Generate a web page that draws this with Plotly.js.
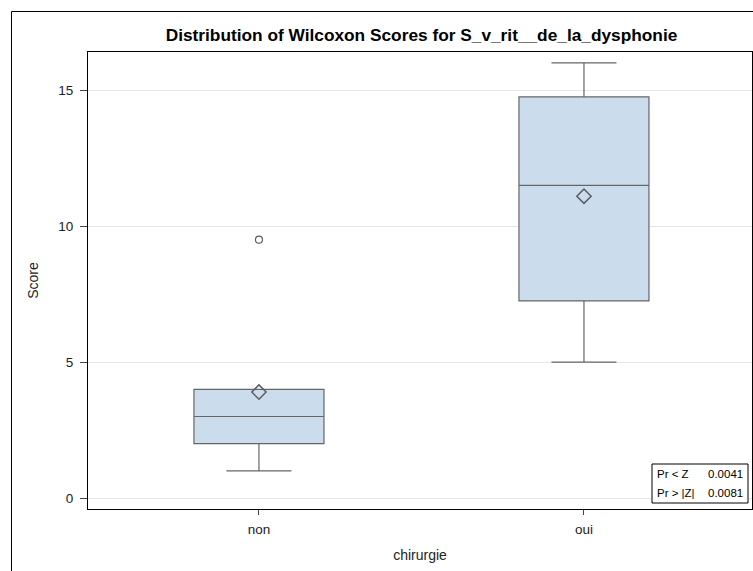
<!DOCTYPE html>
<html>
<head>
<meta charset="utf-8">
<script src="https://cdn.plot.ly/plotly-3.0.1.min.js"></script>
<style>html,body{margin:0;padding:0;background:#fff;}#chart{width:753px;height:571px;}</style>
</head>
<body>
<div id="chart"></div>
<script>
const categories = ['non', 'oui'];
const q1 = [2, 7.25];
const median = [3, 11.5];
const q3 = [4, 14.75];
const lowerFence = [1, 5];
const upperFence = [4, 16];
const means = [3.9, 11.1];
const outlierCat = ['non'];
const outlierVal = [9.5];
const insetLabels = ['Pr < Z', 'Pr > |Z|'];
const insetValues = ['0.0041', '0.0081'];

const L = 88, T = 52, W = 664, H = 457;
const px = x => (x - L) / W;
const py = y => (T + H - y) / H;

const traces = [
  {
    type: 'box', x: categories, q1: q1, median: median, q3: q3,
    lowerfence: lowerFence, upperfence: upperFence,
    boxpoints: false, width: 0.4, whiskerwidth: 0.5,
    fillcolor: '#cbdcec', line: {color: '#66666a', width: 1.2},
    hoverinfo: 'skip', showlegend: false
  },
  {
    type: 'scatter', mode: 'markers', x: categories, y: means,
    marker: {symbol: 'diamond-open', size: 11, color: '#5c5c60', line: {width: 1.5}},
    showlegend: false
  },
  {
    type: 'scatter', mode: 'markers', x: outlierCat, y: outlierVal,
    marker: {symbol: 'circle-open', size: 7, color: '#5c5c60', line: {width: 1.2}},
    showlegend: false
  }
];

const annotations = [];
const rowY = [474, 493];
for (let i = 0; i < insetLabels.length; i++) {
  annotations.push({xref: 'paper', yref: 'paper', x: px(655), y: py(rowY[i]), xanchor: 'left', yanchor: 'middle',
    text: insetLabels[i], showarrow: false, font: {family: 'Liberation Sans, Arial', size: 11.5, color: '#000'}});
  annotations.push({xref: 'paper', yref: 'paper', x: px(745), y: py(rowY[i]), xanchor: 'right', yanchor: 'middle',
    text: insetValues[i], showarrow: false, font: {family: 'Liberation Sans, Arial', size: 11.5, color: '#000'}});
}

const layout = {
  width: 753, height: 571,
  margin: {l: L, r: 753 - L - W, t: T, b: 571 - T - H, pad: 0},
  paper_bgcolor: '#fff', plot_bgcolor: '#fff',
  font: {family: 'Liberation Sans, Arial, sans-serif', size: 13, color: '#000'},
  title: {text: '<b>Distribution of Wilcoxon Scores for S_v_rit__de_la_dysphonie</b>',
    font: {size: 17.3, color: '#000'}, x: px(421.5), xref: 'paper', xanchor: 'center', y: 1 - 35/571, yanchor: 'middle'},
  xaxis: {
    type: 'category', range: [-0.526, 1.517],
    showline: true, linecolor: '#000', linewidth: 1, mirror: true,
    ticks: 'outside', ticklen: 5, tickcolor: '#444', showgrid: false,
    ticklabelstandoff: 3,
    tickfont: {size: 13.5, color: '#222'},
    title: {text: 'chirurgie', font: {size: 14, color: '#222'}, standoff: 13}
  },
  yaxis: {
    range: [-0.4, 16.4], tickvals: [0, 5, 10, 15],
    showline: true, linecolor: '#000', linewidth: 1, mirror: true,
    ticks: 'outside', ticklen: 7, tickcolor: '#444',
    ticklabelstandoff: 4,
    showgrid: true, gridcolor: '#e6e6e6', zeroline: false,
    tickfont: {size: 13.5, color: '#222'},
    title: {text: 'Score', font: {size: 14, color: '#222'}, standoff: 16}
  },
  shapes: [
    {type: 'rect', xref: 'paper', yref: 'paper', x0: px(11.5), x1: px(800), y0: py(700), y1: py(11.5),
      line: {color: '#000', width: 1}, fillcolor: 'rgba(0,0,0,0)', layer: 'above'},
    {type: 'rect', xref: 'paper', yref: 'paper', x0: px(652), x1: px(748), y0: py(503), y1: py(464),
      line: {color: '#000', width: 1}, fillcolor: '#fff', layer: 'above'}
  ],
  annotations: annotations
};

Plotly.newPlot('chart', traces, layout, {displayModeBar: false, staticPlot: true});
</script>
</body>
</html>
